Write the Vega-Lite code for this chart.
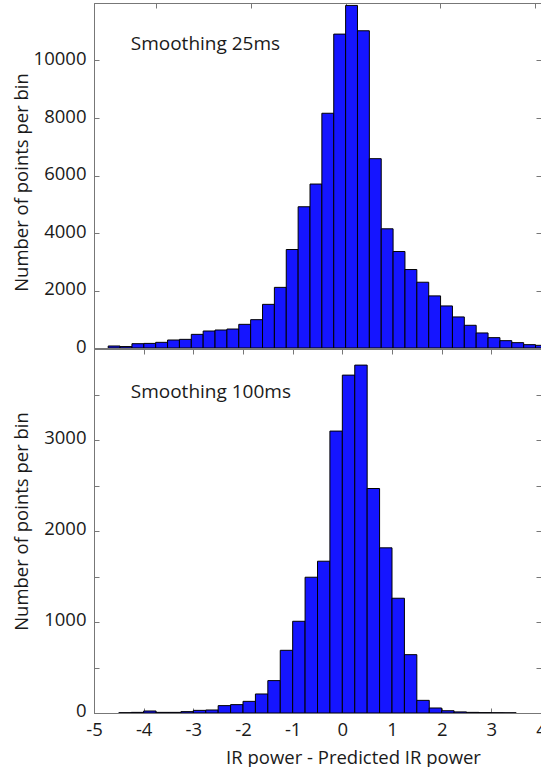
{
  "$schema": "https://vega.github.io/schema/vega-lite/v6.json",
  "padding": {"left": 11, "top": 2, "right": 0, "bottom": 0},
  "spacing": 1,
  "bounds": "flush",
  "background": "white",
  "config": {
    "view": {"stroke": "#777", "strokeWidth": 1},
    "font": "Open Sans",
    "axis": {
      "domainColor": "#777", "tickColor": "#777", "labelColor": "#1a1a1a", "titleColor": "#1a1a1a",
      "labelFont": "Open Sans", "titleFont": "Open Sans", "labelFontSize": 18.5, "titleFontSize": 18.5,
      "titleFontWeight": "normal", "grid": false, "tickSize": -5, "labelFlush": false, "labelOverlap": false, "labelBound": false
    }
  },
  "datasets": {
    "top": [
      {"x0": -4.714, "x1": -4.475, "count": 70},
      {"x0": -4.475, "x1": -4.236, "count": 50},
      {"x0": -4.236, "x1": -3.997, "count": 150},
      {"x0": -3.997, "x1": -3.758, "count": 160},
      {"x0": -3.758, "x1": -3.519, "count": 197},
      {"x0": -3.519, "x1": -3.280, "count": 278},
      {"x0": -3.280, "x1": -3.041, "count": 301},
      {"x0": -3.041, "x1": -2.802, "count": 475},
      {"x0": -2.802, "x1": -2.563, "count": 591},
      {"x0": -2.563, "x1": -2.324, "count": 626},
      {"x0": -2.324, "x1": -2.085, "count": 660},
      {"x0": -2.085, "x1": -1.846, "count": 823},
      {"x0": -1.846, "x1": -1.607, "count": 985},
      {"x0": -1.607, "x1": -1.368, "count": 1518},
      {"x0": -1.368, "x1": -1.129, "count": 2109},
      {"x0": -1.129, "x1": -0.890, "count": 3426},
      {"x0": -0.890, "x1": -0.651, "count": 4913},
      {"x0": -0.651, "x1": -0.412, "count": 5703},
      {"x0": -0.412, "x1": -0.173, "count": 8165},
      {"x0": -0.173, "x1": 0.066, "count": 10918},
      {"x0": 0.066, "x1": 0.305, "count": 11916},
      {"x0": 0.305, "x1": 0.544, "count": 11034},
      {"x0": 0.544, "x1": 0.783, "count": 6585},
      {"x0": 0.783, "x1": 1.022, "count": 4146},
      {"x0": 1.022, "x1": 1.261, "count": 3357},
      {"x0": 1.261, "x1": 1.500, "count": 2729},
      {"x0": 1.500, "x1": 1.739, "count": 2288},
      {"x0": 1.739, "x1": 1.978, "count": 1812},
      {"x0": 1.978, "x1": 2.217, "count": 1463},
      {"x0": 2.217, "x1": 2.456, "count": 1080},
      {"x0": 2.456, "x1": 2.695, "count": 790},
      {"x0": 2.695, "x1": 2.934, "count": 523},
      {"x0": 2.934, "x1": 3.173, "count": 360},
      {"x0": 3.173, "x1": 3.412, "count": 255},
      {"x0": 3.412, "x1": 3.651, "count": 186},
      {"x0": 3.651, "x1": 3.890, "count": 116},
      {"x0": 3.890, "x1": 4.129, "count": 93}
    ],
    "bottom": [
      {"x0": -4.5, "x1": -4.25, "count": 3},
      {"x0": -4.25, "x1": -4.0, "count": 7},
      {"x0": -4.0, "x1": -3.75, "count": 22},
      {"x0": -3.75, "x1": -3.5, "count": 7},
      {"x0": -3.5, "x1": -3.25, "count": 7},
      {"x0": -3.25, "x1": -3.0, "count": 15},
      {"x0": -3.0, "x1": -2.75, "count": 29},
      {"x0": -2.75, "x1": -2.5, "count": 33},
      {"x0": -2.5, "x1": -2.25, "count": 81},
      {"x0": -2.25, "x1": -2.0, "count": 92},
      {"x0": -2.0, "x1": -1.75, "count": 128},
      {"x0": -1.75, "x1": -1.5, "count": 209},
      {"x0": -1.5, "x1": -1.25, "count": 356},
      {"x0": -1.25, "x1": -1.0, "count": 689},
      {"x0": -1.0, "x1": -0.75, "count": 1008},
      {"x0": -0.75, "x1": -0.5, "count": 1492},
      {"x0": -0.5, "x1": -0.25, "count": 1668},
      {"x0": -0.25, "x1": 0.0, "count": 3098},
      {"x0": 0.0, "x1": 0.25, "count": 3713},
      {"x0": 0.25, "x1": 0.5, "count": 3823},
      {"x0": 0.5, "x1": 0.75, "count": 2467},
      {"x0": 0.75, "x1": 1.0, "count": 1815},
      {"x0": 1.0, "x1": 1.25, "count": 1261},
      {"x0": 1.25, "x1": 1.5, "count": 641},
      {"x0": 1.5, "x1": 1.75, "count": 139},
      {"x0": 1.75, "x1": 2.0, "count": 55},
      {"x0": 2.0, "x1": 2.25, "count": 25},
      {"x0": 2.25, "x1": 2.5, "count": 12},
      {"x0": 2.5, "x1": 2.75, "count": 7},
      {"x0": 2.75, "x1": 3.0, "count": 4},
      {"x0": 3.0, "x1": 3.25, "count": 3},
      {"x0": 3.25, "x1": 3.5, "count": 2}
    ]
  },
  "vconcat": [
    {
      "width": 447,
      "height": 345,
      "resolve": {"axis": {"x": "independent", "y": "independent"}},
      "layer": [
        {
          "data": {"name": "top"},
          "mark": {"type": "rect", "fill": "#1515ff", "stroke": "#000000", "strokeWidth": 1, "clip": true},
          "encoding": {
            "x": {"field": "x0", "type": "quantitative", "scale": {"domain": [-5, 4], "nice": false, "zero": false},
                  "axis": {"orient": "bottom", "labels": false, "ticks": false, "title": null}},
            "x2": {"field": "x1"},
            "y": {"field": "count", "type": "quantitative", "scale": {"domain": [0, 12000], "nice": false},
                  "axis": {"orient": "left", "values": [0, 2000, 4000, 6000, 8000, 10000], "labelExpr": "'' + datum.value",
                           "labelPadding": 13, "labelOffset": -2, "title": "Number of points per bin", "titleX": -73, "titleY": 179,
                           "titleAngle": -90, "titleAlign": "center", "titleBaseline": "middle"}},
            "y2": {"datum": 0}
          }
        },
        {
          "data": {"values": [{"x": -4.26, "y": 10382, "label": "Smoothing 25ms"}]},
          "mark": {"type": "text", "align": "left", "baseline": "alphabetic", "font": "Open Sans", "fontSize": 19, "color": "#1a1a1a"},
          "encoding": {
            "x": {"field": "x", "type": "quantitative", "axis": {"orient": "top", "values": [-3.75, -1.84, 0.07, 1.97, 3.88], "labels": false, "title": null}},
            "y": {"field": "y", "type": "quantitative", "axis": {"orient": "right", "values": [0, 2000, 4000, 6000, 8000, 10000], "labels": false, "title": null}},
            "text": {"field": "label"}
          }
        }
      ]
    },
    {
      "width": 447,
      "height": 364,
      "resolve": {"axis": {"x": "independent", "y": "independent"}},
      "layer": [
        {
          "data": {"name": "bottom"},
          "mark": {"type": "rect", "fill": "#1515ff", "stroke": "#000000", "strokeWidth": 1, "clip": true},
          "encoding": {
            "x": {"field": "x0", "type": "quantitative", "scale": {"domain": [-5, 4], "nice": false, "zero": false},
                  "axis": {"orient": "bottom", "values": [-5, -4, -3, -2, -1, 0, 1, 2, 3, 4], "labelExpr": "'' + datum.value",
                           "labelPadding": 12, "title": "IR power - Predicted IR power", "titleX": 259, "titleY": 44,
                           "titleAlign": "center", "titleBaseline": "middle"}},
            "x2": {"field": "x1"},
            "y": {"field": "count", "type": "quantitative", "scale": {"domain": [0, 4000], "nice": false},
                  "axis": {"orient": "left", "values": [0, 500, 1000, 1500, 2000, 2500, 3000, 3500],
                           "labelExpr": "datum.value % 1000 == 0 ? '' + datum.value : ''",
                           "labelPadding": 13, "labelOffset": -3, "title": "Number of points per bin", "titleX": -73, "titleY": 172,
                           "titleAngle": -90, "titleAlign": "center", "titleBaseline": "middle"}},
            "y2": {"datum": 0}
          }
        },
        {
          "data": {"values": [{"x": -4.26, "y": 3462, "label": "Smoothing 100ms"}]},
          "mark": {"type": "text", "align": "left", "baseline": "alphabetic", "font": "Open Sans", "fontSize": 19, "color": "#1a1a1a"},
          "encoding": {
            "x": {"field": "x", "type": "quantitative", "axis": {"orient": "top", "values": [-4, -3, -2, -1, 0, 1, 2, 3], "labels": false, "title": null}},
            "y": {"field": "y", "type": "quantitative", "axis": {"orient": "right", "values": [500, 1000, 1500, 2000, 2500, 3000, 3500], "labels": false, "title": null}},
            "text": {"field": "label"}
          }
        }
      ]
    }
  ]
}
